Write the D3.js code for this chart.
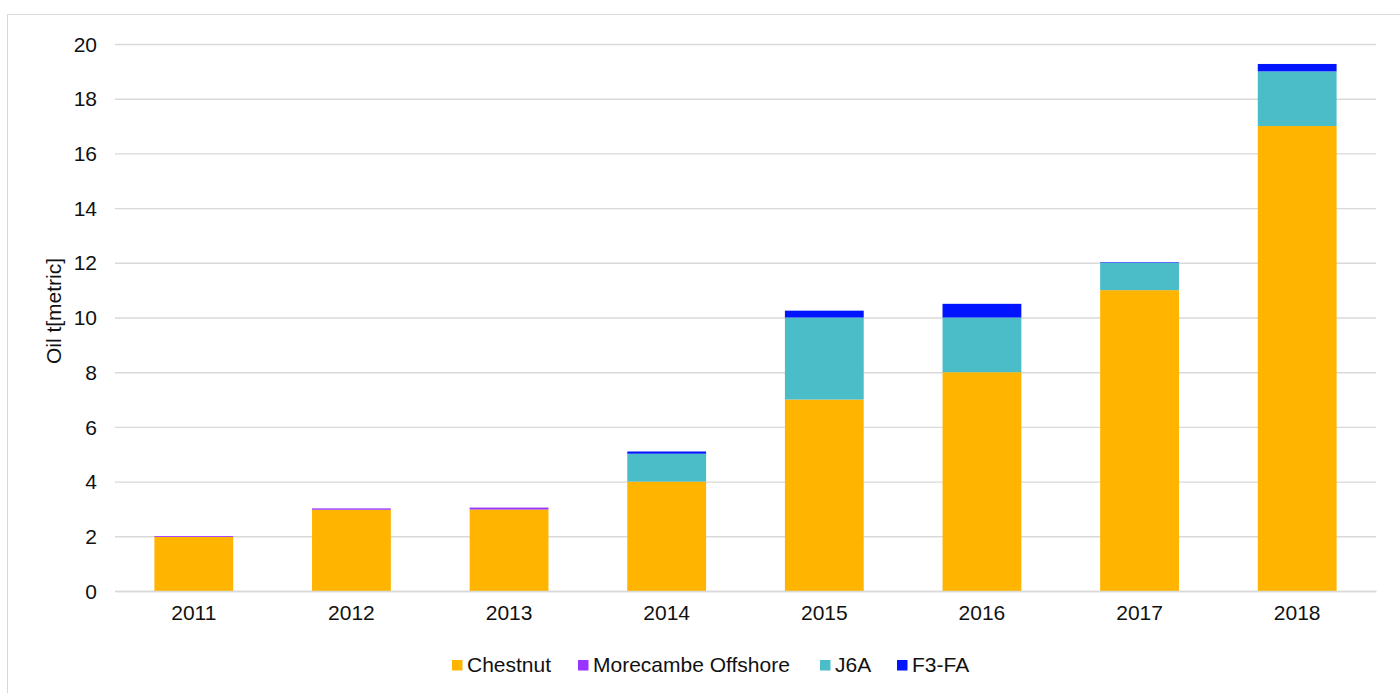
<!DOCTYPE html>
<html>
<head>
<meta charset="utf-8">
<script src="https://cdn.jsdelivr.net/npm/d3@7"></script>
<style>
  body { margin: 0; background: #fff; }
  text { font-family: "Liberation Sans", Arial, sans-serif; fill: #111; }
</style>
</head>
<body>
<div id="chart"></div>
<script>
// data
var years = ["2011", "2012", "2013", "2014", "2015", "2016", "2017", "2018"];
var chestnut = [1.98, 2.97, 2.98, 4, 7, 8, 11, 17];
var morecambe = [0.03, 0.05, 0.07, 0, 0, 0, 0, 0];
var j6a = [0, 0, 0, 1.02, 3, 2, 1, 2];
var f3fa = [0, 0, 0, 0.08, 0.25, 0.5, 0.02, 0.27];
var yTicks = [0, 2, 4, 6, 8, 10, 12, 14, 16, 18, 20];

var seriesNames = ["Chestnut", "Morecambe Offshore", "J6A", "F3-FA"];
var seriesColors = ["#ffb400", "#9933ff", "#4abdc9", "#0014ff"];

var table = years.map(function(y, i) {
    return { year: y, "Chestnut": chestnut[i], "Morecambe Offshore": morecambe[i], "J6A": j6a[i], "F3-FA": f3fa[i] };
});

var W = 1400, H = 693;
var margin = { top: 44, right: 24, bottom: 102, left: 115 },
    width = W - margin.left - margin.right,
    height = H - margin.top - margin.bottom;

var fontSize = "21px";

var svg = d3.select("#chart")
    .append("svg")
    .attr("width", W)
    .attr("height", H);

// chart frame
svg.append("rect")
    .attr("x", 7.5).attr("y", 14.5)
    .attr("width", W).attr("height", H)
    .attr("fill", "none")
    .attr("stroke", "#d9d9d9")
    .attr("stroke-width", 1);

var g = svg.append("g")
    .attr("transform", "translate(" + margin.left + "," + margin.top + ")");

var x = d3.scaleBand()
    .domain(years)
    .range([0, width])
    .paddingInner(0.5)
    .paddingOuter(0.25);

var y = d3.scaleLinear()
    .domain([0, 20])
    .range([height, 0]);

// gridlines + y labels
var yAxis = g.append("g")
    .call(d3.axisLeft(y).tickValues(yTicks).tickSize(-width).tickPadding(18));
yAxis.select(".domain").remove();
yAxis.selectAll(".tick line").attr("stroke", "#d9d9d9").attr("stroke-width", 1.4);
yAxis.selectAll(".tick text")
    .style("font-size", fontSize)
    .attr("dy", "0.34em");

// stacks
var stack = d3.stack().keys(seriesNames);
var layers = stack(table);

g.selectAll(".layer")
    .data(layers)
    .enter().append("g")
    .attr("class", "layer")
    .attr("fill", function(d, i) { return seriesColors[i]; })
    .selectAll("rect")
    .data(function(d) { return d; })
    .enter().append("rect")
    .attr("x", function(d) { return x(d.data.year); })
    .attr("y", function(d) { return y(d[1]); })
    .attr("width", x.bandwidth())
    .attr("height", function(d) { return y(d[0]) - y(d[1]); });

// x axis
var xAxis = g.append("g")
    .attr("transform", "translate(0," + height + ")")
    .call(d3.axisBottom(x).tickSize(0).tickPadding(14));
xAxis.select(".domain").attr("stroke", "#d9d9d9").attr("stroke-width", 1.4);
xAxis.selectAll(".tick text").style("font-size", fontSize);

// y title
svg.append("text")
    .attr("transform", "translate(61,311) rotate(-90)")
    .attr("text-anchor", "middle")
    .style("font-size", fontSize)
    .text("Oil t[metric]");

// legend
var legendX = [452, 578, 820, 897];
var legend = svg.append("g");
seriesNames.forEach(function(name, i) {
    legend.append("rect")
        .attr("x", legendX[i]).attr("y", 660)
        .attr("width", 10.5).attr("height", 10.5)
        .attr("fill", seriesColors[i]);
    legend.append("text")
        .attr("x", legendX[i] + 15).attr("y", 671.5)
        .style("font-size", fontSize)
        .text(name);
});
</script>
</body>
</html>
